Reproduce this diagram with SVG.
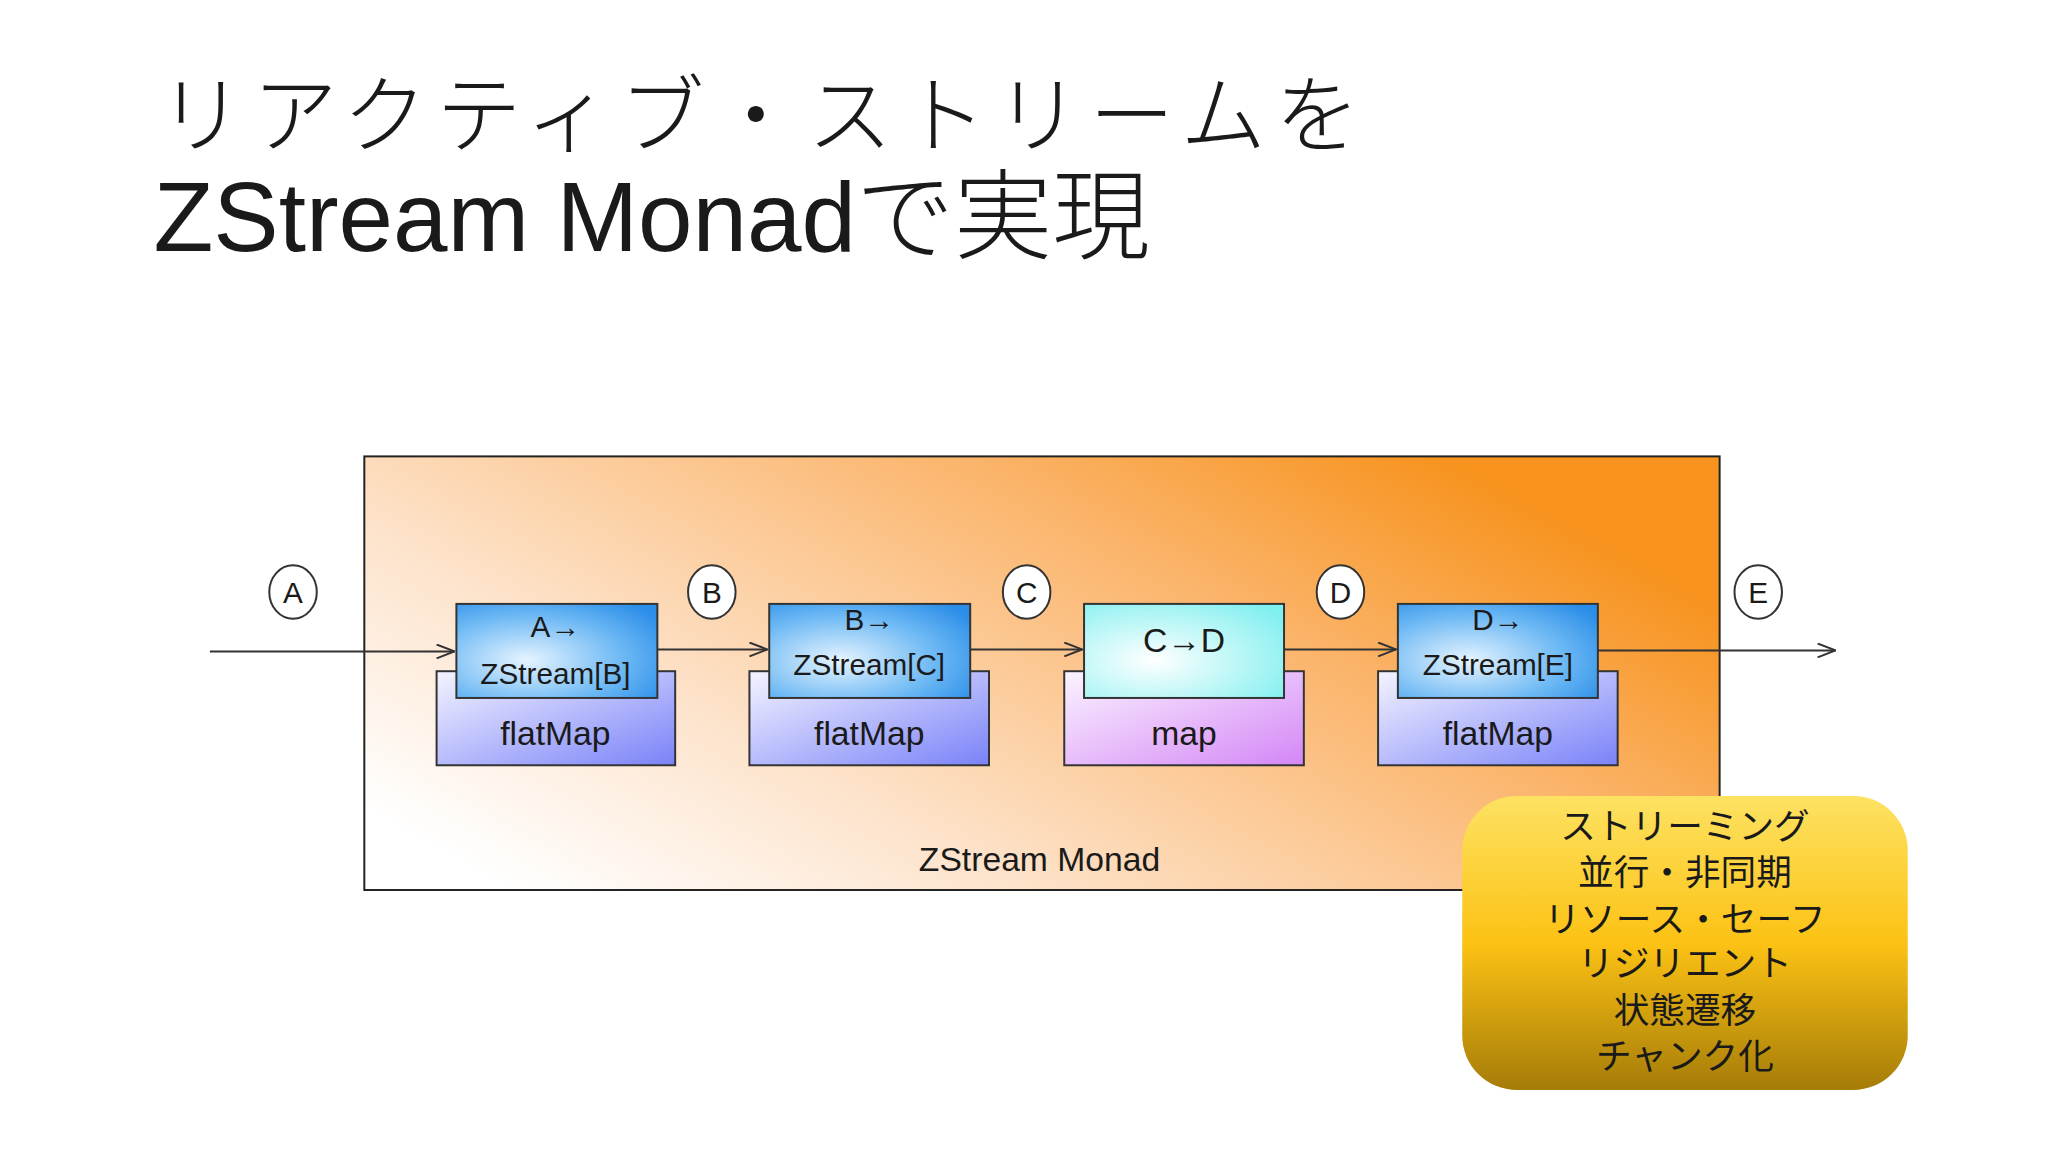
<svg xmlns="http://www.w3.org/2000/svg" width="2048" height="1152" viewBox="0 0 2048 1152">
<defs>
<linearGradient id="bg" x1="0.05" y1="0.9" x2="1" y2="0.35"><stop offset="0" stop-color="#ffffff"/><stop offset="0.3" stop-color="#fde3cb"/><stop offset="0.72" stop-color="#fbb46a"/><stop offset="1" stop-color="#f7931e"/></linearGradient>
<radialGradient id="blue" cx="0.35" cy="0.6" r="0.8"><stop offset="0" stop-color="#e6f4ff"/><stop offset="0.6" stop-color="#6cb8f4"/><stop offset="1" stop-color="#2a8de8"/></radialGradient>
<radialGradient id="cyan" cx="0.35" cy="0.6" r="0.8"><stop offset="0" stop-color="#ffffff"/><stop offset="1" stop-color="#7fefef"/></radialGradient>
<linearGradient id="purp" x1="0" y1="0" x2="1" y2="1"><stop offset="0" stop-color="#f4f4ff"/><stop offset="1" stop-color="#7a82f8"/></linearGradient>
<linearGradient id="pink" x1="0" y1="0" x2="1" y2="1"><stop offset="0" stop-color="#fbf4ff"/><stop offset="1" stop-color="#d486f6"/></linearGradient>
<linearGradient id="gold" x1="0" y1="0" x2="0" y2="1"><stop offset="0" stop-color="#fde262"/><stop offset="0.5" stop-color="#fcc214"/><stop offset="1" stop-color="#a57c08"/></linearGradient>
<marker id="ah" markerWidth="20" markerHeight="16" refX="19" refY="8" orient="auto" markerUnits="userSpaceOnUse"><path d="M1,1 L19,8 L1,15" fill="none" stroke="#333" stroke-width="2"/></marker>
</defs>
<style>
text{font-family:"Liberation Sans","Noto Sans CJK JP",sans-serif;fill:#1a1a1a}
.t{font-family:"Noto Sans CJK JP",sans-serif;font-weight:300}
.box{stroke:#333;stroke-width:2}
.lbl{font-size:34px;text-anchor:middle}
.s{font-size:30px}
.circ{fill:#fff;stroke:#333;stroke-width:2}
.con{stroke:#333;stroke-width:2;fill:none;marker-end:url(#ah)}
.y{font-family:"Noto Sans CJK JP",sans-serif;font-size:36px;text-anchor:middle}
</style>
<rect width="2048" height="1152" fill="#fff"/>
<g transform="scale(0.99)">
<text class="t" x="160" y="147" font-size="86" letter-spacing="9">リアクティブ・ストリームを</text>
<text x="155" y="254" font-size="99"><tspan>ZStream Monad</tspan><tspan class="t">で実現</tspan></text>
<g id="monad"><rect x="368" y="461" width="1369" height="438" fill="url(#bg)" stroke="#222" stroke-width="2"/>
<text class="lbl" x="1050" y="880">ZStream Monad</text></g>
<g id="n1"><rect class="box" x="441" y="678" width="241" height="95" fill="url(#purp)"/><text class="lbl" x="561" y="753">flatMap</text>
<rect class="box" x="461" y="610" width="203" height="95" fill="url(#blue)"/><text class="lbl s" x="561" y="643">A→</text><text class="lbl s" x="561" y="691">ZStream[B]</text></g>
<g id="n2"><rect class="box" x="757" y="678" width="242" height="95" fill="url(#purp)"/><text class="lbl" x="878" y="753">flatMap</text>
<rect class="box" x="777" y="610" width="203" height="95" fill="url(#blue)"/><text class="lbl s" x="878" y="636">B→</text><text class="lbl s" x="878" y="682">ZStream[C]</text></g>
<g id="n3"><rect class="box" x="1075" y="678" width="242" height="95" fill="url(#pink)"/><text class="lbl" x="1196" y="753">map</text>
<rect class="box" x="1095" y="610" width="202" height="95" fill="url(#cyan)"/><text class="lbl" x="1196" y="659">C→D</text></g>
<g id="n4"><rect class="box" x="1392" y="678" width="242" height="95" fill="url(#purp)"/><text class="lbl" x="1513" y="753">flatMap</text>
<rect class="box" x="1412" y="610" width="202" height="95" fill="url(#blue)"/><text class="lbl s" x="1513" y="636">D→</text><text class="lbl s" x="1513" y="682">ZStream[E]</text></g>
<g id="labels">
<ellipse class="circ" cx="296" cy="598" rx="24" ry="27"/><text class="lbl s" x="296" y="609">A</text>
<ellipse class="circ" cx="719" cy="598" rx="24" ry="27"/><text class="lbl s" x="719" y="609">B</text>
<ellipse class="circ" cx="1037" cy="598" rx="24" ry="27"/><text class="lbl s" x="1037" y="609">C</text>
<ellipse class="circ" cx="1354" cy="598" rx="24" ry="27"/><text class="lbl s" x="1354" y="609">D</text>
<ellipse class="circ" cx="1776" cy="598" rx="24" ry="27"/><text class="lbl s" x="1776" y="609">E</text>
</g>
<g id="connectors">
<line class="con" x1="212" y1="658" x2="459" y2="658"/>
<line class="con" x1="664" y1="656" x2="775" y2="656"/>
<line class="con" x1="980" y1="656" x2="1093" y2="656"/>
<line class="con" x1="1297" y1="656" x2="1410" y2="656"/>
<line class="con" x1="1614" y1="657" x2="1854" y2="657"/>
</g>
<g id="features"><rect x="1477" y="804" width="450" height="297" rx="55" fill="url(#gold)"/>
<text class="y" x="1702" y="847">ストリーミング</text>
<text class="y" x="1702" y="894">並行・非同期</text>
<text class="y" x="1702" y="941">リソース・セーフ</text>
<text class="y" x="1702" y="986">リジリエント</text>
<text class="y" x="1702" y="1033">状態遷移</text>
<text class="y" x="1702" y="1080">チャンク化</text></g>
</g>
</svg>
